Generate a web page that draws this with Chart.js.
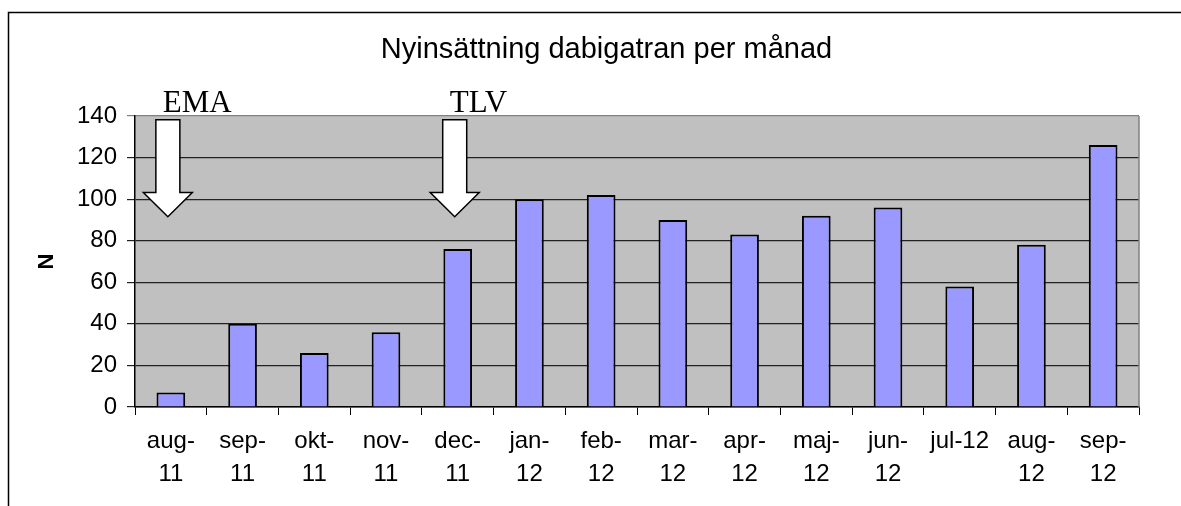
<!DOCTYPE html>
<html><head><meta charset="utf-8">
<script src="https://cdn.jsdelivr.net/npm/chart.js@4"></script>
<style>html,body{margin:0;padding:0;background:#fff;}#wrap{width:1181px;height:506px;position:relative;}</style>
</head><body><div id="wrap"><canvas id="c" width="1181" height="506"></canvas></div>
<script>
const categories = [['aug-','11'],['sep-','11'],['okt-','11'],['nov-','11'],['dec-','11'],['jan-','12'],['feb-','12'],['mar-','12'],['apr-','12'],['maj-','12'],['jun-','12'],['jul-12'],['aug-','12'],['sep-','12']];
const values = [7,40,26,36,76,100,102,90,83,92,96,58,78,126];
const yTicks = [0,20,40,60,80,100,120,140];
const markerLabels = ['EMA','TLV'];
const markerIndex = [0,4];
const titleText = 'Nyinsättning dabigatran per månad';
const yTitle = 'N';

const framePlugin = {
  id:'frame',
  beforeDraw(chart){
    const {ctx, chartArea:a} = chart;
    ctx.save();
    ctx.fillStyle='#c0c0c0';
    ctx.fillRect(a.left,a.top,a.right-a.left,a.bottom-a.top);
    ctx.strokeStyle='#000'; ctx.lineWidth=1.5;
    ctx.beginPath(); ctx.moveTo(8.5,506); ctx.lineTo(8.5,12.5); ctx.lineTo(1181,12.5); ctx.stroke();
    ctx.restore();
  },
  beforeDatasetsDraw(chart){
    const {ctx, chartArea:a} = chart;
    ctx.save();
    ctx.strokeStyle='#808080'; ctx.lineWidth=1.5;
    ctx.beginPath(); ctx.moveTo(a.right,a.top); ctx.lineTo(a.right,a.bottom); ctx.stroke();
    ctx.restore();
  }
};
const arrowPlugin = {
  id:'arrows',
  afterDatasetsDraw(chart){
    const {ctx} = chart; const xs = chart.scales.x, ys = chart.scales.y;
    ctx.save();
    markerIndex.forEach((idx,i)=>{
      const cx = xs.getPixelForValue(idx) - 3;
      const yTop = ys.getPixelForValue(138.2), yNeck = ys.getPixelForValue(103.2), yTip = ys.getPixelForValue(91.5);
      ctx.beginPath();
      ctx.moveTo(cx-12,yTop); ctx.lineTo(cx+12,yTop); ctx.lineTo(cx+12,yNeck); ctx.lineTo(cx+24.5,yNeck);
      ctx.lineTo(cx,yTip); ctx.lineTo(cx-24.5,yNeck); ctx.lineTo(cx-12,yNeck); ctx.closePath();
      ctx.fillStyle='#fff'; ctx.fill();
      ctx.strokeStyle='#000'; ctx.lineWidth=1.5; ctx.lineJoin='miter'; ctx.stroke();
      ctx.fillStyle='#000'; ctx.font='31px "Liberation Serif", "Times New Roman", serif';
      ctx.textAlign='left'; ctx.textBaseline='alphabetic';
      ctx.fillText(markerLabels[i], cx-5, chart.chartArea.top-4.5);
    });
    ctx.restore();
  }
};

new Chart(document.getElementById('c'), {
  type:'bar',
  data:{labels:categories, datasets:[{data:values, backgroundColor:'#9999ff', borderColor:'#000', borderWidth:2, categoryPercentage:1, barPercentage:0.4}]},
  options:{
    responsive:false, animation:false,
    layout:{padding:{left:32,right:0,top:0,bottom:0}},
    plugins:{
      legend:{display:false}, tooltip:{enabled:false},
      title:{display:true, text:titleText, color:'#000', font:{family:'"Liberation Sans", Arial, sans-serif', size:29, weight:'normal', lineHeight:1.2}, padding:{top:33,bottom:48.2}}
    },
    scales:{
      x:{
        grid:{display:true, drawOnChartArea:false, drawTicks:true, tickLength:8, offset:true, color:'#000', lineWidth:1},
        border:{display:true, color:'#000', width:1.5},
        ticks:{color:'#000', padding:10, maxRotation:0, autoSkip:false, font:{family:'"Liberation Sans", Arial, sans-serif', size:24, lineHeight:1.375}},
        afterFit(s){ s.height = 99; }
      },
      y:{
        min:0, max:140,
        afterBuildTicks(s){ s.ticks = yTicks.map(v=>({value:v})); },
        grid:{color:(c)=> c.tick && c.tick.value===140 ? '#808080' : '#222', lineWidth:1.2, tickLength:8, drawTicks:true},
        border:{display:true, color:'#000', width:1.5},
        ticks:{color:'#000', padding:10, font:{family:'"Liberation Sans", Arial, sans-serif', size:24}},
        title:{display:true, text:yTitle, color:'#000', font:{family:'"Liberation Sans", Arial, sans-serif', size:22, weight:'bold', lineHeight:1.2}, padding:{top:2,bottom:0}},
        afterFit(s){ s.width = 103; }
      },
      y2:{
        position:'right', display:true,
        grid:{display:false, drawTicks:false}, border:{display:false}, ticks:{display:false},
        afterFit(s){ s.width = 42; }
      }
    }
  },
  plugins:[framePlugin, arrowPlugin]
});
</script></body></html>
